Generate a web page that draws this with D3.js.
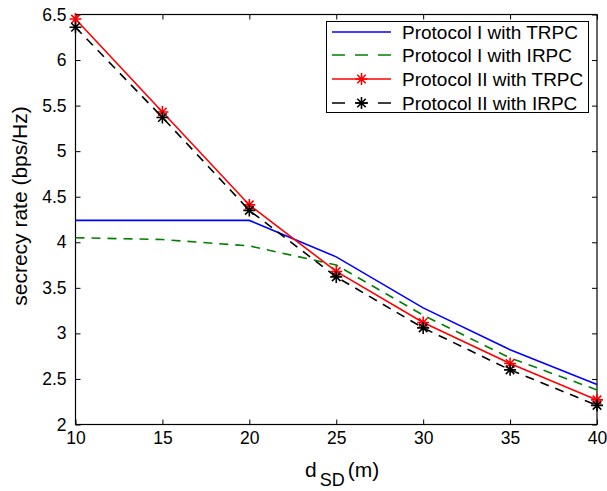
<!DOCTYPE html>
<html>
<head>
<meta charset="utf-8">
<script src="https://cdn.jsdelivr.net/npm/d3@7"></script>
<style>
  html, body { margin: 0; padding: 0; background: #fff; }
  svg { display: block; font-family: "Liberation Sans", Arial, Helvetica, sans-serif; }
</style>
</head>
<body>
<div id="chart"></div>
<script>
const dsd = [10, 15, 20, 25, 30, 35, 40];
const p1Trpc = [4.24, 4.24, 4.24, 3.84, 3.28, 2.82, 2.44];
const p1Irpc = [4.05, 4.03, 3.96, 3.75, 3.20, 2.73, 2.38];
const p2Trpc = [6.45, 5.43, 4.41, 3.68, 3.12, 2.67, 2.27];
const p2Irpc = [6.36, 5.37, 4.35, 3.62, 3.06, 2.60, 2.21];
const xTicks = [10, 15, 20, 25, 30, 35, 40];
const yTicks = [2, 2.5, 3, 3.5, 4, 4.5, 5, 5.5, 6, 6.5];
const seriesNames = ["Protocol I with TRPC", "Protocol I with IRPC", "Protocol II with TRPC", "Protocol II with IRPC"];

(function () {
  const width = 607, height = 491;
  const left = 75.5, right = 597, top = 14.5, bottom = 424.5;

  const svg = d3.select("#chart").append("svg")
    .attr("width", width)
    .attr("height", height);

  const x = d3.scaleLinear().domain([10, 40]).range([left, right]);
  const y = d3.scaleLinear().domain([2, 6.5]).range([bottom, top]);

  const styles = [
    { color: "#0000ff", dash: null, marker: false, values: p1Trpc },
    { color: "#008000", dash: "9,7", marker: false, values: p1Irpc },
    { color: "#ff0000", dash: null, marker: true, values: p2Trpc },
    { color: "#000000", dash: "9,7", marker: true, values: p2Irpc }
  ];

  const fontSize = 17.5;

  // axes, ticks inside on all four sides
  const bottomAxis = svg.append("g")
    .attr("transform", `translate(0,${bottom})`)
    .call(d3.axisBottom(x).tickValues(xTicks).tickSizeInner(-5).tickSizeOuter(0).tickPadding(7).tickFormat(d3.format("d")));
  const leftAxis = svg.append("g")
    .attr("transform", `translate(${left},0)`)
    .call(d3.axisLeft(y).tickValues(yTicks).tickSizeInner(-5).tickSizeOuter(0).tickPadding(9).tickFormat(d => String(d)));
  const topAxis = svg.append("g")
    .attr("transform", `translate(0,${top})`)
    .call(d3.axisTop(x).tickValues(xTicks).tickSizeInner(-5).tickSizeOuter(0).tickFormat(""));
  const rightAxis = svg.append("g")
    .attr("transform", `translate(${right},0)`)
    .call(d3.axisRight(y).tickValues(yTicks).tickSizeInner(-5).tickSizeOuter(0).tickFormat(""));

  [bottomAxis, leftAxis, topAxis, rightAxis].forEach(a => {
    a.select(".domain").remove();
    a.selectAll("line").attr("stroke", "#000").attr("stroke-width", 1);
    a.selectAll("text")
      .attr("fill", "#000")
      .style("font-size", fontSize + "px")
      .style("font-family", "'Liberation Sans', Arial, sans-serif");
  });

  svg.append("rect")
    .attr("x", left).attr("y", top)
    .attr("width", right - left).attr("height", bottom - top)
    .attr("fill", "none").attr("stroke", "#000").attr("stroke-width", 1.2);

  const line = d3.line()
    .x((d, i) => x(dsd[i]))
    .y(d => y(d));

  function star(g, cx, cy, r, color) {
    const d = [];
    for (let k = 0; k < 4; k++) {
      const a = k * Math.PI / 4;
      const dx = r * Math.cos(a), dy = r * Math.sin(a);
      d.push(`M${cx - dx},${cy - dy}L${cx + dx},${cy + dy}`);
    }
    g.append("path").attr("d", d.join("")).attr("stroke", color).attr("stroke-width", 1.6).attr("fill", "none");
  }

  const plot = svg.append("g");
  styles.forEach(s => {
    plot.append("path")
      .datum(s.values)
      .attr("d", line)
      .attr("fill", "none")
      .attr("stroke", s.color)
      .attr("stroke-width", 1.6)
      .attr("stroke-dasharray", s.dash);
    if (s.marker) {
      s.values.forEach((v, i) => star(plot, x(dsd[i]), y(v), 6, s.color));
    }
  });

  // legend
  const lg = svg.append("g");
  lg.append("rect")
    .attr("x", 326.5).attr("y", 21.5)
    .attr("width", 262).attr("height", 91)
    .attr("fill", "#fff").attr("stroke", "#000").attr("stroke-width", 1);
  const rowY = [32, 55, 79, 103];
  styles.forEach((s, i) => {
    lg.append("line")
      .attr("x1", 332).attr("x2", 391)
      .attr("y1", rowY[i]).attr("y2", rowY[i])
      .attr("stroke", s.color).attr("stroke-width", 1.6)
      .attr("stroke-dasharray", s.dash ? "13,10" : null);
    if (s.marker) star(lg, 361.5, rowY[i], 6, s.color);
    lg.append("text")
      .attr("x", 402).attr("y", rowY[i] + 6.5)
      .style("font-size", "19px")
      .attr("fill", "#000")
      .text(seriesNames[i]);
  });

  // axis labels
  const xl = svg.append("text")
    .attr("x", 305).attr("y", 477)
    .style("font-size", "21px")
    .attr("fill", "#000");
  xl.append("tspan").text("d");
  xl.append("tspan").attr("dx", 3).attr("dy", 9).style("font-size", "18px").text("SD");
  xl.append("tspan").attr("dx", 3).attr("dy", -9).text("(m)");

  svg.append("text")
    .attr("transform", "translate(27,206) rotate(-90)")
    .attr("text-anchor", "middle")
    .style("font-size", "21px")
    .attr("fill", "#000")
    .text("secrecy rate (bps/Hz)");
})();
</script>
</body>
</html>
